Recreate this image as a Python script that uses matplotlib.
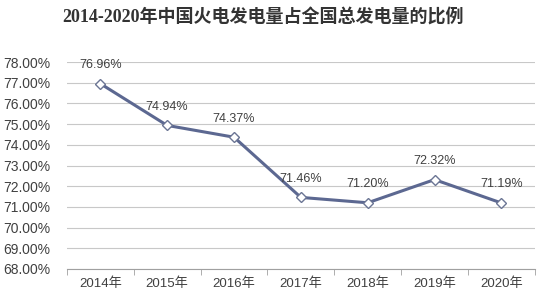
import matplotlib.pyplot as plt
from matplotlib.ticker import FuncFormatter

plt.rcParams['font.family'] = ['Liberation Sans', 'Noto Sans CJK SC', 'DejaVu Sans']

years = ['2014年', '2015年', '2016年', '2017年', '2018年', '2019年', '2020年']
share = [76.96, 74.94, 74.37, 71.46, 71.20, 72.32, 71.19]

fig = plt.figure(figsize=(5.48, 2.93), dpi=100)
ax = fig.add_axes([0.122, 0.082, 0.854, 0.706])

x = list(range(len(years)))
ax.plot(x, share, color='#5c6891', linewidth=2.2, marker='D', markersize=5,
        markerfacecolor='white', markeredgecolor='#6b7594', markeredgewidth=1, zorder=3)
for xi, v in zip(x, share):
    ax.annotate(f"{v:.2f}%", xy=(xi, v), xytext=(0, 9), textcoords='offset points',
                ha='center', va='bottom', fontsize=9, color='#404040')

ax.set_xlim(-0.5, len(years) - 0.5)
ax.set_ylim(68, 78)
ax.set_yticks(range(68, 79))
ax.yaxis.set_major_formatter(FuncFormatter(lambda v, p: f"{v:.2f}%"))
ax.set_xticks(x)
ax.set_xticklabels(years)
ax.set_xticks([i + 0.5 for i in range(-1, len(years))], minor=True)
ax.tick_params(axis='x', which='major', length=0, labelsize=9.5, colors='#404040', pad=6)
ax.tick_params(axis='x', which='minor', length=4, color='#a0a0a0')
ax.tick_params(axis='y', length=0, labelsize=10, colors='#404040', pad=12)
ax.grid(axis='y', color='#c8c8c8', linewidth=0.8)
ax.set_axisbelow(True)
for s in ['top', 'right', 'left']:
    ax.spines[s].set_visible(False)
ax.spines['bottom'].set_color('#a0a0a0')

fig.text(0.48, 0.94, '2014-2020年中国火电发电量占全国总发电量的比例', ha='center', va='center',
         fontsize=13, fontweight='bold', color='#333333',
         family=['Liberation Serif', 'Noto Sans CJK SC'])

fig.savefig('out.png', dpi=100)
